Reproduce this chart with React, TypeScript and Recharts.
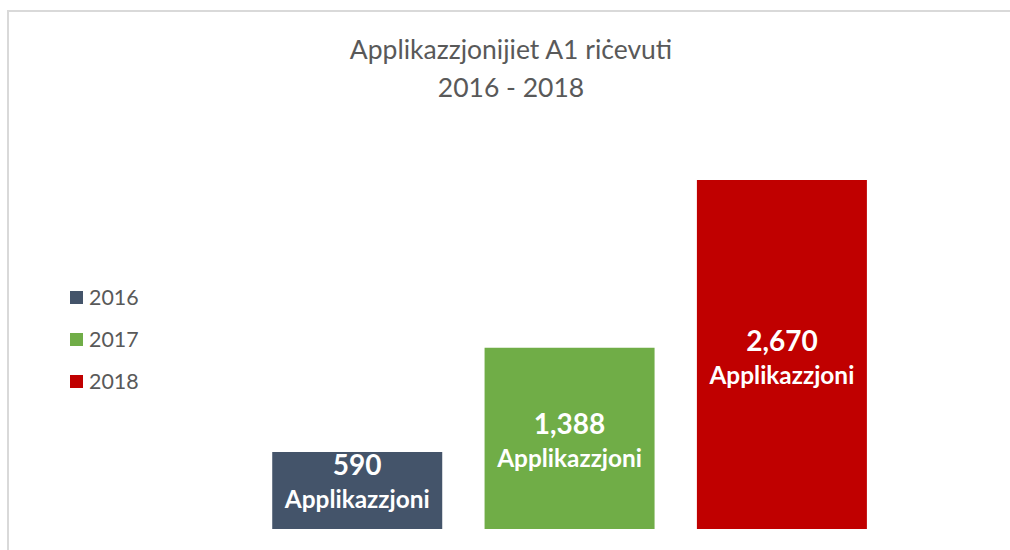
import React from 'react';
import { BarChart, Bar, XAxis, YAxis, Cell, LabelList } from 'recharts';

const years = ['2016', '2017', '2018'];
const applications = [590, 1388, 2670];
const colors = ['#44546A', '#70AD47', '#C00000'];
const titleLines = ['Applikazzjonijiet A1 riċevuti', '2016 - 2018'];
const unitLabel = 'Applikazzjoni';

const data = years.map((y, i) => ({ year: y, value: applications[i], color: colors[i] }));

const FONT = 'Lato, "Open Sans", sans-serif';

const BarLabel = (props: any) => {
  const { x, y, width, height, value } = props;
  const cx = x + width / 2;
  const center = y + height / 2;
  const base2 = Math.min(center + 29, y + height - 21);
  const base1 = base2 - 33;
  return (
    <g>
      <text x={cx} y={base1} textAnchor="middle" fill="#fff" fontFamily={FONT} fontWeight={700} fontSize={28}>
        {Number(value).toLocaleString('en-US')}
      </text>
      <text x={cx} y={base2} textAnchor="middle" fill="#fff" fontFamily={FONT} fontWeight={700} fontSize={24.4}>
        {unitLabel}
      </text>
    </g>
  );
};

export default function App() {
  return (
    <div style={{ position: 'fixed', left: 0, top: 0, width: 1010, height: 550, overflow: 'hidden', background: '#fff' }}>
      <div
        style={{
          position: 'absolute',
          left: 7,
          top: 10,
          width: 1010,
          height: 550,
          borderTop: '2px solid #d9d9d9',
          borderLeft: '2px solid #d9d9d9',
        }}
      />
      <div
        style={{
          position: 'absolute',
          left: 0,
          width: 1022,
          top: 30,
          textAlign: 'center',
          fontFamily: FONT,
          fontSize: 26.5,
          lineHeight: '38px',
          color: '#595959',
        }}
      >
        {titleLines.map((t) => (
          <div key={t}>{t}</div>
        ))}
      </div>
      <div style={{ position: 'absolute', left: 70, top: 276, fontFamily: FONT }}>
        {years.map((y, i) => (
          <div key={y} style={{ display: 'flex', alignItems: 'center', height: 42 }}>
            <span style={{ display: 'inline-block', width: 13, height: 13, background: colors[i], marginRight: 6 }} />
            <span style={{ fontSize: 21.4, color: '#595959' }}>{y}</span>
          </div>
        ))}
      </div>
      <div style={{ position: 'absolute', left: 0, top: 0 }}>
        <BarChart width={1010} height={550} data={data} margin={{ top: 137, right: 122, bottom: 21, left: 251 }} barCategoryGap="10%">
          <XAxis dataKey="year" hide />
          <YAxis hide domain={[0, 3000]} />
          <Bar dataKey="value" isAnimationActive={false}>
            {data.map((d) => (
              <Cell key={d.year} fill={d.color} />
            ))}
            <LabelList dataKey="value" content={<BarLabel />} />
          </Bar>
        </BarChart>
      </div>
    </div>
  );
}
